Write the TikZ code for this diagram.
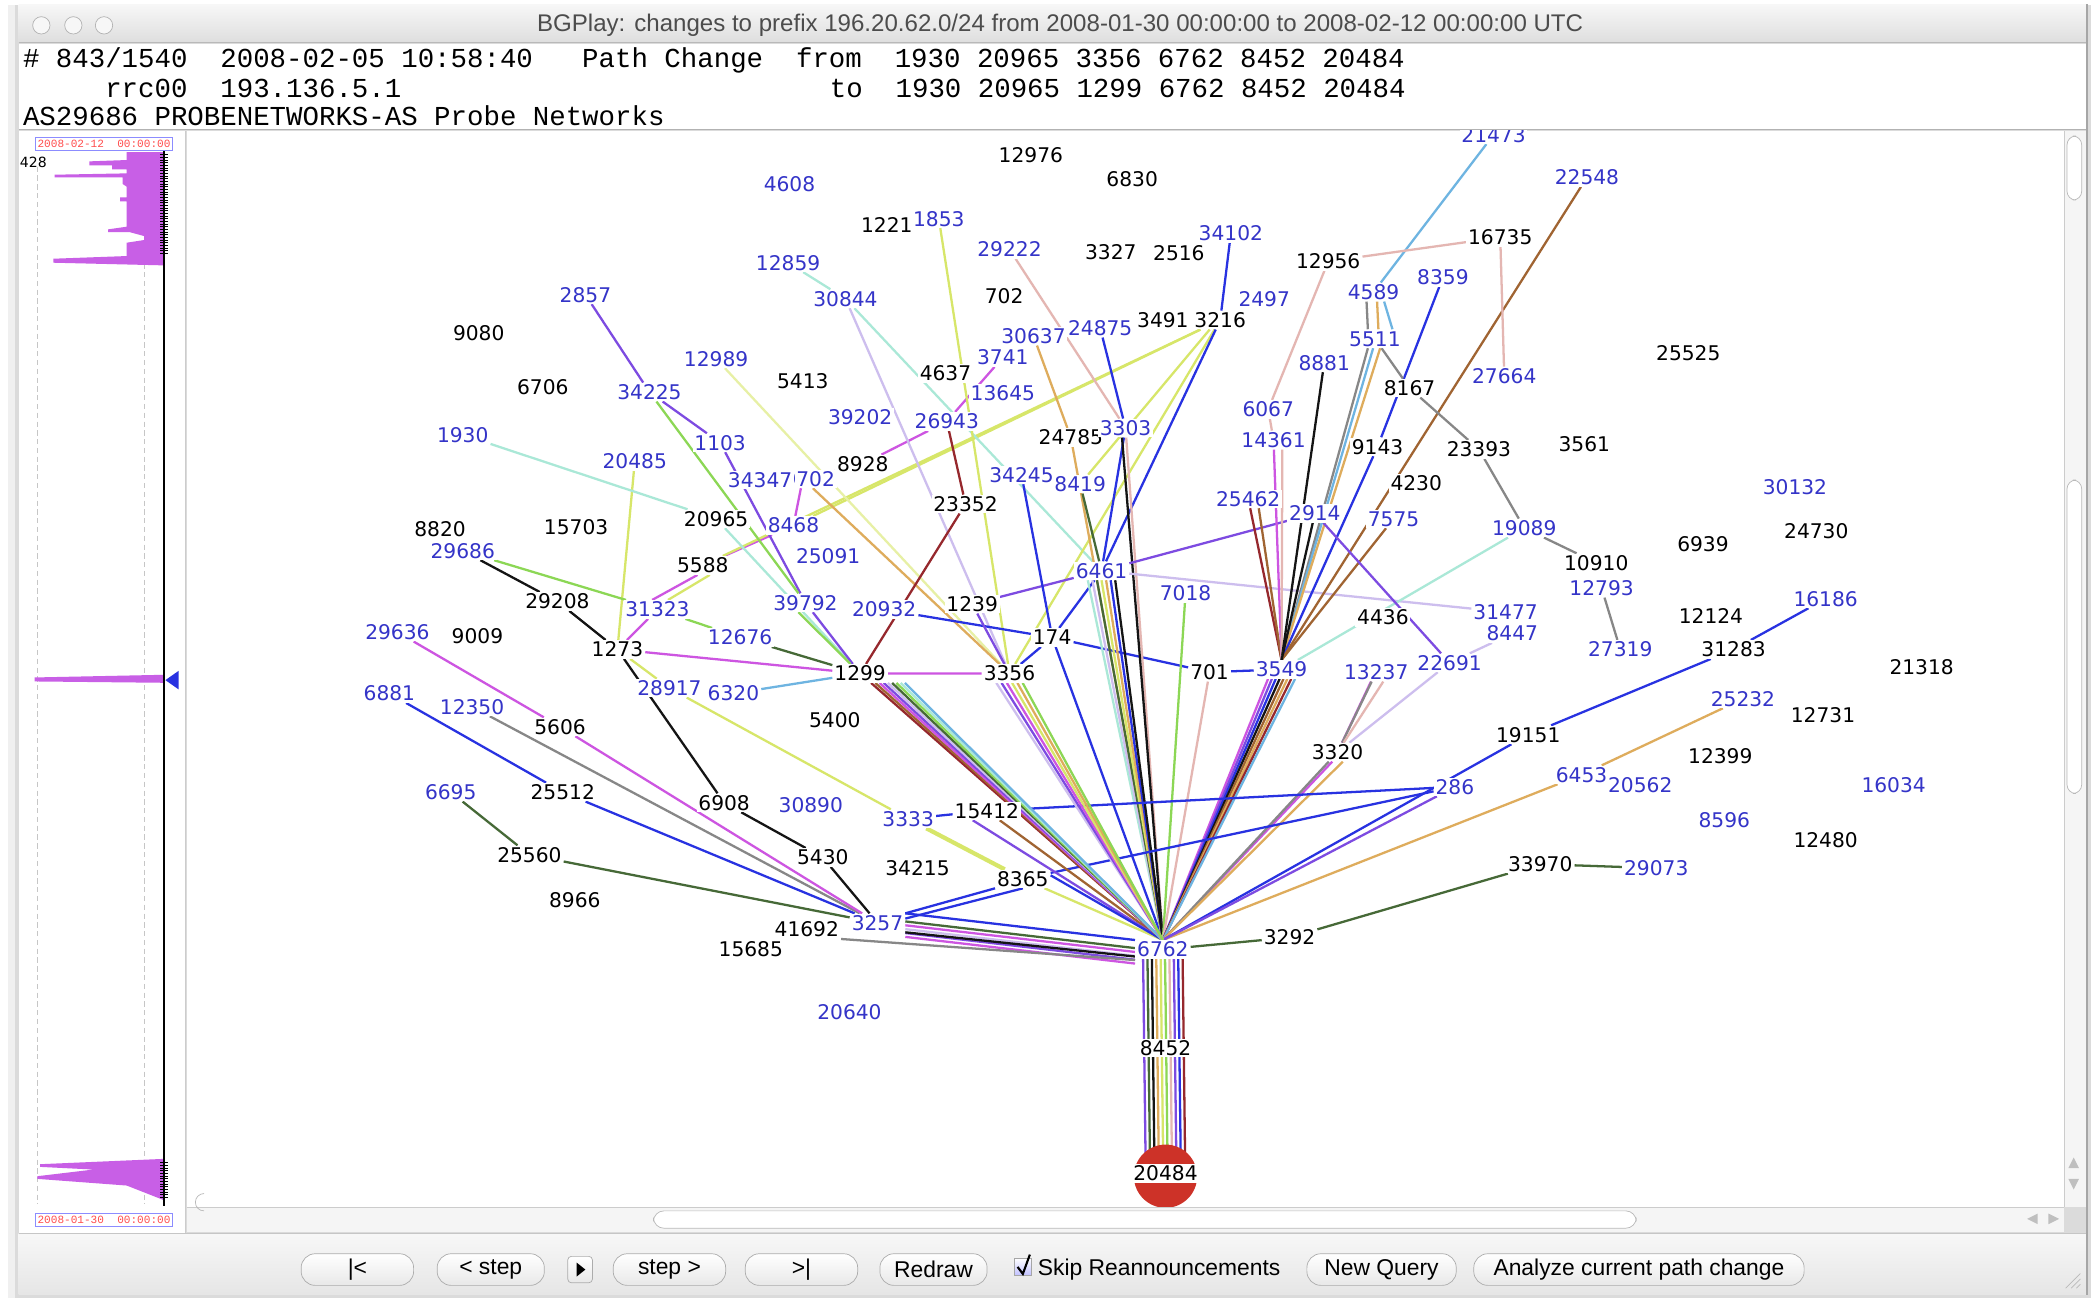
\documentclass[tikz,border=0pt]{standalone}
\usepackage{fontspec}
\setmainfont{DejaVu Sans}
\newfontfamily\hdrfont{Liberation Mono}
\newfontfamily\uinarrow{Liberation Sans}
\usetikzlibrary{positioning,calc}

\definecolor{asblue}{RGB}{52,52,200}
\definecolor{cbl}{RGB}{40,50,225}
\definecolor{cpu}{RGB}{125,75,225}
\definecolor{cmg}{RGB}{205,85,225}
\definecolor{cyl}{RGB}{215,230,105}
\definecolor{clg}{RGB}{140,215,85}
\definecolor{cdg}{RGB}{70,105,55}
\definecolor{cbk}{RGB}{20,20,20}
\definecolor{cgr}{RGB}{135,135,135}
\definecolor{ccy}{RGB}{170,232,215}
\definecolor{clb}{RGB}{110,180,225}
\definecolor{clv}{RGB}{205,190,238}
\definecolor{cpk}{RGB}{228,182,178}
\definecolor{cor}{RGB}{222,172,92}
\definecolor{cbr}{RGB}{160,100,50}
\definecolor{cdr}{RGB}{150,40,45}
\definecolor{histo}{RGB}{200,95,230}
\definecolor{origred}{RGB}{205,50,40}

\pgfdeclarelayer{chrome}
\pgfdeclarelayer{links}
\pgfsetlayers{chrome,links,main}

\begin{document}
\begin{tikzpicture}[
  x=0.02667cm, y=-0.02667cm,
  peer/.style={fill=white, inner xsep=1pt, inner ysep=1pt, text height=8.4pt, text depth=0pt, font=\fontsize{11.5}{12}\selectfont, text=asblue},
  asn/.style={peer, text=black},
  lnk/.style={line width=1.3pt},
  btn/.style={draw=gray!65, rounded corners=8pt, top color=white, bottom color=gray!18, minimum height=18pt, inner sep=1pt, font=\uinarrow\fontsize{13}{14}\selectfont},
  stamp/.style={draw=blue!45, inner xsep=1pt, inner ysep=1.5pt, font=\hdrfont\fontsize{6.3}{7}\selectfont, text=red!70},
  hdr/.style={anchor=west, inner sep=0pt, font=\hdrfont\fontsize{15.6}{16}\selectfont}]
\useasboundingbox (0,0) rectangle (1568,973);

\begin{pgfonlayer}{chrome}
% window, title bar and header
\fill[white] (0,0) rectangle (1568,973);
\fill[gray!12] (6,4) rectangle (1568,973);
\fill[gray!28] (11,4) rectangle (1568,973);
\shade[top color=gray!6, bottom color=gray!26] (14,3) rectangle (1565,32);
\draw[gray!55] (14,32) -- (1565,32);
\foreach \cx in {31,55,78}
  \draw[gray!60, fill=gray!6] (\cx,19) circle (6.5);
\fill[white] (14,33) rectangle (1565,97);
\draw[gray!60] (14,97) -- (1565,97);
% time line panel
\fill[white] (14,98) rectangle (139,925);
\draw[gray!40] (139,98) -- (139,925);
\draw[gray!45, densely dashed] (28,125) -- (28,903);
\draw[gray!45, densely dashed] (108,125) -- (108,903);
\fill[histo] (123,114) -- (95,114) -- (95,120) -- (67,121) -- (67,124) -- (84,124) -- (84,127) -- (95,127) -- (95,130)
  -- (41,131) -- (41,133) -- (92,133) -- (92,138) -- (95,140) -- (95,148) -- (90,148) -- (90,151) -- (95,151)
  -- (95,170) -- (81,172) -- (81,174) -- (97,174) -- (108,177) -- (108,180) -- (95,182) -- (95,192) -- (40,194)
  -- (40,197) -- (123,199) -- cycle;
\fill[histo] (26,508) -- (123,506) -- (123,512) -- (26,511) -- cycle;
\fill[histo] (123,869) -- (30,873) -- (30,875) -- (70,877) -- (28,882) -- (28,884) -- (95,889) -- (123,900) -- cycle;
\fill[cbl] (124,510) -- (134,503) -- (134,517) -- cycle;
\foreach \ty in {116,118,...,190} \draw[black, line width=0.5pt] (120,\ty) -- (126,\ty);
\foreach \ty in {872,874,...,898} \draw[black, line width=0.5pt] (120,\ty) -- (126,\ty);
\draw[black, line width=0.8pt] (123,113) -- (123,904);
% canvas and scroll bars
\fill[white] (140,98) rectangle (1548,905);
\fill[gray!8] (1548,98) rectangle (1564,905);
\draw[gray!40] (1548,98) -- (1548,905);
\draw[gray!55, fill=white, rounded corners=5pt] (1550,102) rectangle (1561,150);
\draw[gray!55, fill=white, rounded corners=5pt] (1550,360) rectangle (1561,595);
\fill[gray!50] (1555,868) -- (1551,876) -- (1559,876) -- cycle;
\fill[gray!50] (1555,892) -- (1551,884) -- (1559,884) -- cycle;
\fill[gray!8] (140,905) rectangle (1548,924);
\draw[gray!40] (140,905) -- (1548,905);
\draw[gray!55, fill=white, rounded corners=6pt] (490,908) rectangle (1227,921);
\draw[gray!55] (153,908) arc (90:270:6.5);
\fill[gray!50] (1520,914) -- (1528,910) -- (1528,918) -- cycle;
\fill[gray!50] (1544,914) -- (1536,910) -- (1536,918) -- cycle;
\shade[top color=gray!6, bottom color=gray!20] (14,925) rectangle (1565,971);
\draw[gray!45] (14,925) -- (1565,925);
\draw[gray!55] (1549,966) -- (1560,955) (1553,966) -- (1560,959) (1557,966) -- (1560,963);
\draw[gray!70, line width=1pt] (1565,3) -- (1565,971);
\end{pgfonlayer}

\node[font=\uinarrow\fontsize{13.7}{15}\selectfont, text=gray!60!black] (ttl) at (795,19)
  {BGPlay: changes to prefix 196.20.62.0/24 from 2008-01-30 00:00:00 to 2008-02-12 00:00:00 UTC};
\node[hdr] (hdr1) at (17,45) {\#\ 843/1540\ \ 2008-02-05\ 10:58:40\ \ \ Path\ Change\ \ from\ \ 1930\ 20965\ 3356\ 6762\ 8452\ 20484};
\node[hdr] (hdr2) at (17,66) {\ \ \ \ \ rrc00\ \ 193.136.5.1};
\node[hdr] (hdr2b) at (622,66) {to\ \ 1930\ 20965\ 1299\ 6762\ 8452\ 20484};
\node[hdr] (hdr3) at (17,87) {AS29686\ PROBENETWORKS-AS\ Probe\ Networks};

\node[stamp] (tstart) at (78,108) {2008-02-12\ \ 00:00:00};
\node[stamp] (tend) at (78,915) {2008-01-30\ \ 00:00:00};
\node[font=\fontsize{8}{9}\selectfont, inner sep=0pt] (cnt) at (25,122) {428};

% tool bar
\node[btn, minimum width=64pt] (first) at (268,952) {|<};
\node[btn, minimum width=61pt] (back) at (368,952) {< step};
\node[draw=gray!65, rounded corners=2pt, top color=white, bottom color=gray!18, minimum width=14pt, minimum height=15pt] (play) at (435,952) {};
\fill[black] ([xshift=-2pt, yshift=4pt]play.center) -- ([xshift=3pt]play.center) -- ([xshift=-2pt, yshift=-4pt]play.center) -- cycle;
\node[btn, minimum width=64pt] (fwd) at (502,952) {step >};
\node[btn, minimum width=64pt] (last) at (601,952) {>|};
\node[btn, minimum width=61pt] (redraw) at (700,952) {Redraw};
\node[draw=gray!70, top color=white, bottom color=blue!25, minimum size=10pt, inner sep=0pt] (skipbox) at (767,950) {};
\draw[black, line width=1.2pt] ([xshift=-3pt]skipbox.center) -- ([yshift=-4pt]skipbox.center) -- ([xshift=4pt, yshift=7pt]skipbox.center);
\node[anchor=west, inner sep=0pt, font=\uinarrow\fontsize{13}{14}\selectfont] (skip) at (778,952) {Skip Reannouncements};
\node[btn, minimum width=85pt] (query) at (1036,952) {New Query};
\node[btn, minimum width=188pt] (analyze) at (1229,952) {Analyze current path change};

% AS labels
\begin{scope}
\clip (140,98) rectangle (1548,905);
\node[circle, fill=origred, minimum size=36pt, inner sep=0pt] (orig) at (874,882) {};
\node[peer] (a21473) at (1120,101) {21473};
\node[asn] (a12976) at (773,116) {12976};
\node[peer] (a22548) at (1190,133) {22548};
\node[peer] (a4608) at (592,138) {4608};
\node[asn] (a6830) at (849,134) {6830};
\node[asn] (a1221) at (665,169) {1221};
\node[peer] (a1853) at (704,164) {1853};
\node[peer] (a34102) at (923,175) {34102};
\node[asn] (a16735) at (1125,178) {16735};
\node[peer] (a29222) at (757,187) {29222};
\node[asn] (a3327) at (833,189) {3327};
\node[asn] (a2516) at (884,190) {2516};
\node[asn] (a12956) at (996,196) {12956};
\node[peer] (a12859) at (591,197) {12859};
\node[peer] (a8359) at (1082,208) {8359};
\node[peer] (a2857) at (439,221) {2857};
\node[peer] (a30844) at (634,224) {30844};
\node[asn] (a702) at (753,222) {702};
\node[peer] (a4589) at (1030,219) {4589};
\node[peer] (a2497) at (948,224) {2497};
\node[asn] (a3491) at (872,240) {3491};
\node[asn] (a3216) at (915,240) {3216};
\node[peer] (a30637) at (775,252) {30637};
\node[peer] (a3741) at (752,268) {3741};
\node[peer] (a24875) at (825,246) {24875};
\node[asn] (a9080) at (359,250) {9080};
\node[peer] (a5511) at (1031,254) {5511};
\node[peer] (a8881) at (993,272) {8881};
\node[asn] (a25525) at (1266,265) {25525};
\node[peer] (a12989) at (537,269) {12989};
\node[peer] (a27664) at (1128,282) {27664};
\node[asn] (a4637) at (709,280) {4637};
\node[asn] (a5413) at (602,286) {5413};
\node[asn] (a6706) at (407,290) {6706};
\node[asn] (a8167) at (1057,291) {8167};
\node[peer] (a34225) at (487,294) {34225};
\node[peer] (a13645) at (752,295) {13645};
\node[peer] (a6067) at (951,307) {6067};
\node[peer] (a39202) at (645,313) {39202};
\node[peer] (a26943) at (710,316) {26943};
\node[asn] (a24785) at (803,328) {24785};
\node[peer] (a3303) at (844,321) {3303};
\node[peer] (a1930) at (347,326) {1930};
\node[peer] (a14361) at (955,330) {14361};
\node[asn] (a9143) at (1033,335) {9143};
\node[asn] (a23393) at (1109,337) {23393};
\node[asn] (a3561) at (1188,333) {3561};
\node[peer] (a1103) at (540,332) {1103};
\node[peer] (a20485) at (476,346) {20485};
\node[asn] (a8928) at (647,348) {8928};
\node[peer] (a39702) at (602,359) {39702};
\node[peer] (a34347) at (570,360) {34347};
\node[asn] (a4230) at (1062,362) {4230};
\node[peer] (a30132) at (1346,365) {30132};
\node[peer] (a34245) at (766,356) {34245};
\node[peer] (a8419) at (810,363) {8419};
\node[asn] (a23352) at (724,378) {23352};
\node[peer] (a25462) at (936,374) {25462};
\node[peer] (a2914) at (986,385) {2914};
\node[asn] (a20965) at (537,389) {20965};
\node[peer] (a7575) at (1045,389) {7575};
\node[asn] (a8820) at (330,397) {8820};
\node[peer] (a29686) at (347,413) {29686};
\node[asn] (a15703) at (432,395) {15703};
\node[peer] (a8468) at (595,394) {8468};
\node[peer] (a19089) at (1143,396) {19089};
\node[asn] (a24730) at (1362,398) {24730};
\node[asn] (a6939) at (1277,408) {6939};
\node[peer] (a25091) at (621,417) {25091};
\node[asn] (a5588) at (527,424) {5588};
\node[asn] (a10910) at (1197,422) {10910};
\node[peer] (a6461) at (826,428) {6461};
\node[peer] (a12793) at (1201,441) {12793};
\node[peer] (a7018) at (889,445) {7018};
\node[asn] (a29208) at (418,451) {29208};
\node[peer] (a39792) at (604,452) {39792};
\node[peer] (a20932) at (663,457) {20932};
\node[asn] (a1239) at (729,453) {1239};
\node[peer] (a31323) at (493,457) {31323};
\node[peer] (a31477) at (1129,459) {31477};
\node[asn] (a4436) at (1037,463) {4436};
\node[peer] (a16186) at (1369,449) {16186};
\node[asn] (a12124) at (1283,462) {12124};
\node[peer] (a8447) at (1134,475) {8447};
\node[peer] (a29636) at (298,474) {29636};
\node[asn] (a9009) at (358,477) {9009};
\node[asn] (a174) at (789,478) {174};
\node[peer] (a12676) at (555,478) {12676};
\node[peer] (a27319) at (1215,487) {27319};
\node[asn] (a31283) at (1300,487) {31283};
\node[asn] (a1273) at (463,487) {1273};
\node[peer] (a22691) at (1087,497) {22691};
\node[peer] (a13237) at (1032,504) {13237};
\node[asn] (a1299) at (645,505) {1299};
\node[asn] (a3356) at (757,505) {3356};
\node[asn] (a701) at (907,504) {701};
\node[peer] (a3549) at (961,502) {3549};
\node[asn] (a21318) at (1441,500) {21318};
\node[peer] (a28917) at (502,516) {28917};
\node[peer] (a6320) at (550,520) {6320};
\node[peer] (a6881) at (292,520) {6881};
\node[peer] (a25232) at (1307,524) {25232};
\node[peer] (a12350) at (354,530) {12350};
\node[asn] (a12731) at (1367,536) {12731};
\node[asn] (a5400) at (626,540) {5400};
\node[asn] (a5606) at (420,545) {5606};
\node[asn] (a19151) at (1146,551) {19151};
\node[asn] (a3320) at (1003,564) {3320};
\node[asn] (a12399) at (1290,567) {12399};
\node[peer] (a6453) at (1186,581) {6453};
\node[peer] (a20562) at (1230,589) {20562};
\node[peer] (a286) at (1091,590) {286};
\node[peer] (a16034) at (1420,589) {16034};
\node[peer] (a6695) at (338,594) {6695};
\node[asn] (a25512) at (422,594) {25512};
\node[asn] (a6908) at (543,602) {6908};
\node[peer] (a30890) at (608,604) {30890};
\node[peer] (a3333) at (681,614) {3333};
\node[asn] (a15412) at (740,608) {15412};
\node[peer] (a8596) at (1293,615) {8596};
\node[asn] (a12480) at (1369,630) {12480};
\node[asn] (a25560) at (397,641) {25560};
\node[asn] (a5430) at (617,643) {5430};
\node[asn] (a34215) at (688,651) {34215};
\node[asn] (a33970) at (1155,648) {33970};
\node[peer] (a29073) at (1242,651) {29073};
\node[asn] (a8365) at (767,659) {8365};
\node[asn] (a8966) at (431,675) {8966};
\node[asn] (a15685) at (563,712) {15685};
\node[asn] (a41692) at (605,697) {41692};
\node[peer] (a3257) at (658,692) {3257};
\node[asn] (a3292) at (967,703) {3292};
\node[peer] (a6762) at (872,712) {6762};
\node[peer] (a20640) at (637,759) {20640};
\node[asn] (a8452) at (874,786) {8452};
\node[asn] (a20484) at (874,880) {20484};
\end{scope}

\begin{pgfonlayer}{links}
% paths from the left into 3257
\draw[lnk,cbl] (a6881) -- (a25512) (a25512) -- (a3257);
\draw[lnk,cgr] (a12350) -- (a3257);
\draw[lnk,cmg] (a29636) -- (a5606) (a5606) -- (a3257);
\draw[lnk,cbk] (a29686) -- (a29208) (a29208) -- (a1273) (a1273) -- (a6908) (a6908) -- (a5430) (a5430) -- (a3257);
\draw[lnk,cdg] (a6695) -- (a25560) (a25560) -- (a3257);
\draw[lnk,cbl] (a3257.north east) -- (a6762.north west);
\foreach \c [count=\i, evaluate=\i as \dy using 3-2.2*\i] in {cdg,cmg,clv,cpu,cmg}
  \draw[lnk,\c] ([yshift=\dy pt]a3257.east) -- ([yshift=\dy pt]a6762.west);
\draw[lnk,cbk] (a3257.south east) -- ([yshift=-4pt]a6762.west);
\draw[lnk,cgr] (a41692.south east) -- ([yshift=-6pt]a6762.west);
\draw[lnk,cbl] (a3257.north east) -- (a8365.south west);
\draw[lnk,cbl] ([yshift=-3pt]a3257.north east) -- (a8365.south);
% 1273, 31323 and 1299 side
\draw[lnk,cyl] (a20485) -- (a1273);
\draw[lnk,cmg] (a31323) -- (a1273);
\draw[lnk,cyl] (a1273) -- (a28917) (a28917) -- (a3333);
\draw[lnk,cyl, line width=2.4pt] (a3333) -- (a8365);
\draw[lnk,cmg] (a1273) -- (a1299) (a1299) -- (a3356);
\draw[lnk,clg] (a29686) -- (a31323) (a31323) -- (a12676);
\draw[lnk,cdg] (a12676) -- (a1299);
\draw[lnk,clb] (a6320) -- (a1299);
\draw[lnk,cmg] ([xshift=-3pt]a5588.south) -- ([xshift=-3pt]a31323.north);
\draw[lnk,cyl] ([xshift=4pt]a5588.south) -- ([xshift=6pt]a31323.north);
\draw[lnk,cmg] (a5588) -- (a8468) (a8468) -- (a39702) (a39702) -- (a8928) (a8928) -- (a26943) (a26943) -- (a3741);
\draw[lnk,cyl] (a5588) -- (a3216);
\draw[lnk,cyl] (a8468) -- (a3216);
\draw[lnk,cpu] (a2857) -- (a34225) (a34225) -- (a1103) (a1103) -- (a39792);
\draw[lnk,clg] (a34225) -- (a39792);
\draw[lnk,ccy] (a1930) -- (a20965) (a20965) -- (a1299);
\draw[lnk,cpu] (a39792) -- (a1299);
\draw[lnk,clg] ([xshift=-4pt]a39792.south) -- (a1299);
\draw[lnk,cyl!60] (a12989) -- (a3356);
\draw[lnk,cor] (a39702) -- (a3356);
\draw[lnk,ccy] (a12859) -- (a30844) (a30844) -- (a6461);
\draw[lnk,clv] (a30844) -- (a3356);
\draw[lnk,cyl] (a1853) -- (a3356);
\draw[lnk,cyl] (a3216) -- (a3356);
\draw[lnk,cdr] (a26943) -- (a23352) (a23352) -- (a1299);
% around 174 and 6461
\draw[lnk,cbl] (a20932) -- (a174) (a174) -- (a701) (a701) -- (a3549);
\draw[lnk,cpu] (a1239) -- (a6461);
\draw[lnk,cpu] (a1239) -- (a3356);
\draw[lnk,cbl] (a34245) -- (a174);
\draw[lnk,cbl] (a6461) -- (a174) (a174) -- (a3356);
\draw[lnk,cbl] (a174) -- (a6762.north);
\draw[lnk,cbl] (a24875) -- (a3303) (a3303) -- (a6461);
\draw[lnk,cbl] (a34102) -- (a3216) (a3216) -- (a6461);
\draw[lnk,cyl] ([xshift=-6pt]a3216.south) -- (a8419);
\draw[lnk,cpk] (a29222) -- (a3303) (a3303) -- (a6762.north);
\draw[lnk,cor] (a30637) -- (a24785) (a24785) -- (a6762.north);
\draw[lnk,cbk] ([xshift=-2pt]a3303.south) -- (a6762.north);
\draw[lnk,cdg] (a8419) -- (a6461);
\draw[lnk,cpu] (a6461) -- (a2914);
\draw[lnk,clv] (a6461) -- (a31477);
\foreach \c [count=\i, evaluate=\i as \dx using (\i-4)*2.6] in {ccy,clv,cdg,cyl,cor,cbl,cbk}
  \draw[lnk,\c] ([xshift=\dx pt]a6461.south) -- (a6762.north);
\draw[lnk,clg] (a7018) -- (a6762.north);
\draw[lnk,cpk] (a701) -- (a6762.north);
% into 3549 from above
\draw[lnk,cdr] (a25462) -- (a3549.north);
\draw[lnk,cbr] ([xshift=6pt]a25462.south) -- (a3549.north);
\draw[lnk,cpk] (a12956) -- (a6067) (a6067) -- (a14361);
\draw[lnk,cmg] (a14361) -- (a3549.north);
\draw[lnk,cpk] ([xshift=5pt]a14361.south) -- (a3549.north);
\draw[lnk,cbk] (a8881) -- (a3549.north);
\draw[lnk,clb] (a21473) -- (a4589);
\draw[lnk,cgr] ([xshift=-4pt]a4589.south) -- ([xshift=-4pt]a5511.north);
\draw[lnk,cor] ([xshift=2pt]a4589.south) -- ([xshift=2pt]a5511.north);
\draw[lnk,clb] ([xshift=6pt]a4589.south) -- ([xshift=10pt]a5511.north);
\draw[lnk,cgr] ([xshift=-4pt]a5511.south) -- (a3549.north);
\draw[lnk,clb] ([xshift=-1pt]a5511.south) -- (a3549.north);
\draw[lnk,cor] ([xshift=3pt]a5511.south) -- (a3549.north);
\draw[lnk,cbl] (a8359) -- (a9143) (a9143) -- (a3549.north);
\draw[lnk,cbr] (a22548) -- (a3549.north);
\draw[lnk,cbr] (a7575) -- (a3549.north);
\draw[lnk,cbk] (a2914) -- (a3549.north);
\foreach \c [count=\i, evaluate=\i as \dx using (\i-4.5)*2.2] in {cmg,cpu,cbl,cbk,cbr,cor,cdr,clb}
  \draw[lnk,\c] ([xshift=\dx pt]a3549.south) -- (a6762.north);
% right hand side
\draw[lnk,ccy] (a3549) -- (a19089);
\draw[lnk,cpu] (a2914) -- (a22691);
\draw[lnk,clv] (a8447) -- (a22691) (a22691) -- (a3320);
\draw[lnk,cmg] ([xshift=-3pt]a13237.south) -- (a3320);
\draw[lnk,cgr] (a13237) -- (a3320);
\draw[lnk,cpk] ([xshift=4pt]a13237.south) -- (a3320);
\draw[lnk,cmg] ([xshift=-3pt]a3320.south) -- (a6762.north);
\draw[lnk,cgr] (a3320) -- (a6762.north);
\draw[lnk,cor] ([xshift=3pt]a3320.south) -- (a6762.north);
\draw[lnk,cgr] (a5511) -- (a8167) (a8167) -- (a23393) (a23393) -- (a19089) (a19089) -- (a10910);
\draw[lnk,cgr] (a12793) -- (a27319);
\draw[lnk,cpk] (a12956) -- (a16735) (a16735) -- (a27664);
\draw[lnk,cbl] (a16186) -- (a31283) (a31283) -- (a19151) (a19151) -- (a6762.north);
\draw[lnk,cor] (a25232) -- (a6453) (a6453) -- (a6762.north);
\draw[lnk,cpu] (a286) -- (a6762.north);
\draw[lnk,cbl] (a286) -- (a15412);
\draw[lnk,cbl] (a286) -- (a8365);
\draw[lnk,cdg] (a29073) -- (a33970) (a33970) -- (a3292) (a3292) -- (a6762);
% the rest of the fan into 6762
\draw[lnk,cbl] (a3333) -- (a15412);
\draw[lnk,cbr] (a15412) -- (a6762.north);
\draw[lnk,cpu] ([xshift=-8pt]a15412.south) -- (a6762.north);
\draw[lnk,cyl] (a8365) -- (a6762.north);
\draw[lnk,cbl] ([yshift=2pt]a8365.east) -- (a6762.north);
\foreach \c [count=\i, evaluate=\i as \dx using (\i-5)*2.4] in {cdr,cbr,cmg,cpu,clv,cdg,clg,ccy,clb}
  \draw[lnk,\c] ([xshift=\dx pt]a1299.south east) -- (a6762.north);
\foreach \c [count=\i, evaluate=\i as \dx using (\i-3.5)*3] in {clv,cpu,cmg,cyl,cor,clg}
  \draw[lnk,\c] ([xshift=\dx pt]a3356.south) -- (a6762.north);
% down to the origin
\foreach \c [count=\i, evaluate=\i as \dx using (\i-5.5)*2.5] in {cpu,cdg,cbk,cor,cyl,clg,cpk,cpu,cbl,cdr}
  \draw[lnk,\c] ([xshift=\dx pt]a6762.south) -- ([xshift=\dx pt]a20484.center);
\end{pgfonlayer}
\end{tikzpicture}
\end{document}
